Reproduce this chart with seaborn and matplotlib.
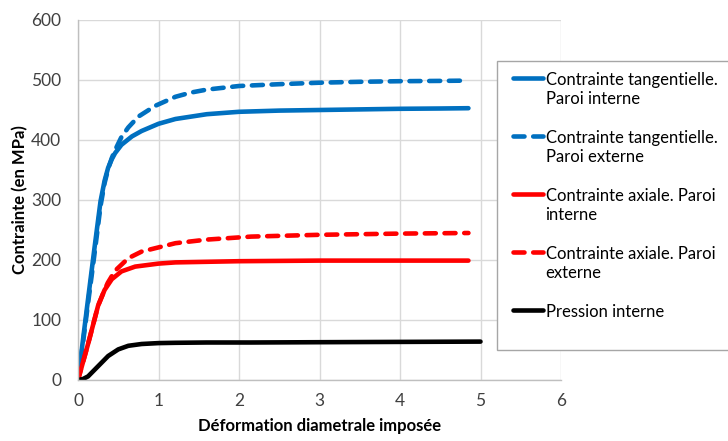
import matplotlib
matplotlib.use("Agg")
import matplotlib.pyplot as plt
import seaborn as sns
from matplotlib.patches import Rectangle

# ---- data ----
x_tang_int = [0, 0.06, 0.125, 0.2, 0.28, 0.33, 0.375, 0.42, 0.46, 0.54, 0.67, 0.79, 1.0, 1.21, 1.6, 2.0, 2.5, 3.0, 3.5, 4.0, 4.5, 4.85]
y_tang_int = [0, 65, 135, 215, 298, 332, 354, 368, 378, 392, 406, 415, 427, 435, 443, 447, 449, 450, 451, 452, 452.5, 453]

x_tang_ext = [0, 0.06, 0.125, 0.2, 0.28, 0.33, 0.375, 0.42, 0.46, 0.54, 0.625, 0.75, 0.96, 1.21, 1.4, 1.6, 2.0, 2.5, 3.0, 3.5, 4.0, 4.5, 4.85]
y_tang_ext = [0, 60, 128, 205, 290, 328, 352, 370, 383, 405, 421, 439, 457, 472, 479, 484, 490, 493, 495.5, 497, 498, 498.5, 499]

x_ax_int = [0, 0.125, 0.25, 0.33, 0.42, 0.54, 0.71, 1.0, 1.21, 1.6, 2.0, 3.0, 4.0, 4.85]
y_ax_int = [0, 60, 124, 150, 168, 181, 189, 194, 196, 197, 198, 199, 199, 199]

x_ax_ext = [0, 0.125, 0.25, 0.33, 0.37, 0.46, 0.625, 0.79, 1.0, 1.21, 1.6, 2.15, 3.0, 4.0, 4.85]
y_ax_ext = [0, 60, 124, 150, 162, 182, 203, 214, 221, 228, 234, 239, 242, 244, 245]

x_press = [0, 0.06, 0.125, 0.25, 0.375, 0.5, 0.625, 0.79, 1.0, 1.21, 1.6, 2.15, 3.0, 4.0, 5.0]
y_press = [0, 1.5, 6, 23, 40, 51, 57, 60, 61.5, 62, 62.5, 62.5, 63, 63.5, 64]

labels = [
    "Contrainte tangentielle.\nParoi interne",
    "Contrainte tangentielle.\nParoi externe",
    "Contrainte axiale. Paroi\ninterne",
    "Contrainte axiale. Paroi\nexterne",
    "Pression interne",
]
x_ticks = [0, 1, 2, 3, 4, 5, 6]
y_ticks = [0, 100, 200, 300, 400, 500, 600]
x_label = "Déformation diametrale imposée"
y_label = "Contrainte (en MPa)"

BLUE = "#0070C0"
RED = "#FF0000"
BLACK = "#000000"

sns.set_theme(style="white")
plt.rcParams['font.family'] = ['Lato', 'DejaVu Sans']

fig = plt.figure(figsize=(7.28, 4.41), dpi=100)
ax = fig.add_axes([78 / 728, 1 - 380 / 441, (561 - 78) / 728, (380 - 20) / 441])

dash = (0, (2.4, 1.9))
series = [
    (x_tang_int, y_tang_int, BLUE, "-"),
    (x_tang_ext, y_tang_ext, BLUE, dash),
    (x_ax_int, y_ax_int, RED, "-"),
    (x_ax_ext, y_ax_ext, RED, dash),
    (x_press, y_press, BLACK, "-"),
]
for (xs, ys, c, ls), lab in zip(series, labels):
    sns.lineplot(x=xs, y=ys, ax=ax, color=c, linewidth=3.3, linestyle=ls,
                 label=lab, sort=False, estimator=None,
                 solid_capstyle="round", dash_capstyle="round",
                 solid_joinstyle="round", legend=False)

ax.set_xlim(0, 6)
ax.set_ylim(0, 600)
ax.set_xticks(x_ticks)
ax.set_yticks(y_ticks)
ax.grid(True, color="#D9D9D9", linewidth=1.0)
ax.set_axisbelow(True)
for s in ["top", "right"]:
    ax.spines[s].set_visible(False)
for s in ["left", "bottom"]:
    ax.spines[s].set_color("#BFBFBF")
    ax.spines[s].set_linewidth(1.0)
ax.tick_params(axis="both", length=0, labelsize=12.5, colors="#404040")
ax.tick_params(axis="y", pad=12)
ax.tick_params(axis="x", pad=9)
ax.set_xlabel(x_label, fontsize=12, fontweight="bold", color="#000000", labelpad=7)
ax.set_ylabel(y_label, fontsize=12, fontweight="bold", color="#000000", labelpad=2)

# legend frame
rect = Rectangle((497 / 728, 1 - 350 / 441), 0.5, (350 - 61) / 441,
                 transform=fig.transFigure, facecolor="white",
                 edgecolor="#A6A6A6", linewidth=1.0, zorder=5)
fig.patches.append(rect)

handles = ax.get_lines()
leg = fig.legend(handles=handles, labels=labels, loc="upper left",
                 bbox_to_anchor=(513 / 728, 1 - 72 / 441),
                 bbox_transform=fig.transFigure, frameon=False,
                 borderpad=0, borderaxespad=0, handlelength=1.8,
                 handletextpad=0.15, labelspacing=1.38,
                 prop={"size": 12})
leg.set_zorder(10)
for t in leg.get_texts():
    t.set_linespacing(1.23)
    t.set_color("#000000")
try:
    for col in leg._legend_handle_box.get_children():
        for hp in col.get_children():
            hp.align = "top"
except Exception:
    pass

fig.savefig("out.png", dpi=100)
